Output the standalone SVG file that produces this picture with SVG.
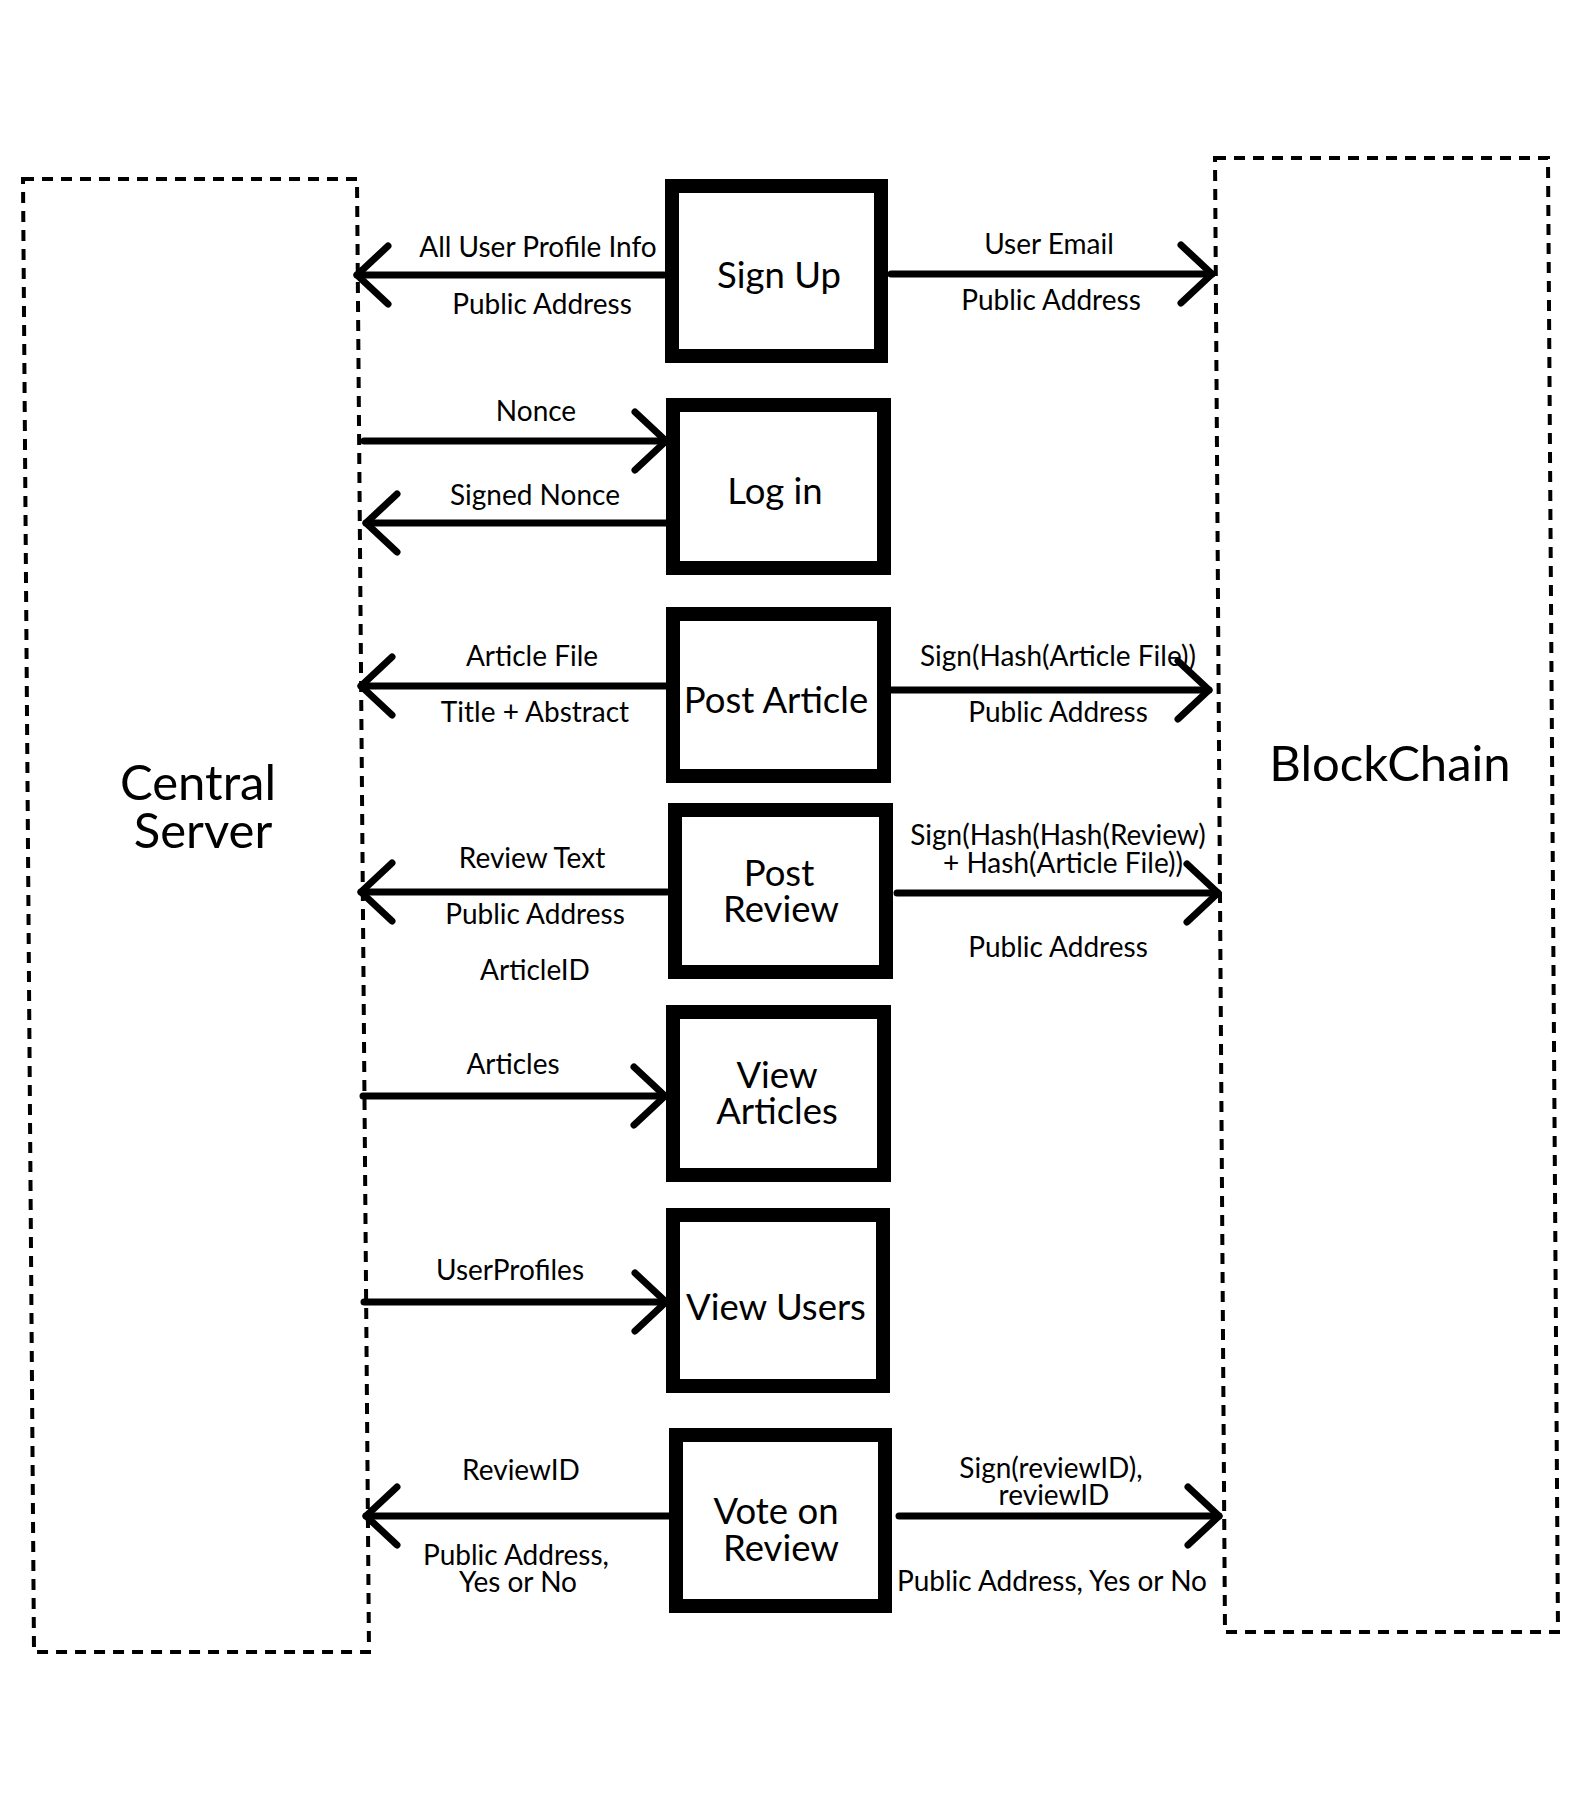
<svg xmlns="http://www.w3.org/2000/svg" width="1595" height="1795" viewBox="0 0 1595 1795">
<style>
.bg{fill:#fff}
.zone{fill:none;stroke:#000;stroke-width:4;stroke-dasharray:11 8}
.node{fill:#fff;stroke:#000;stroke-width:14}
.conn{fill:none;stroke:#000;stroke-width:7;stroke-linecap:round}
.lbl{font-family:Lato,"Open Sans",sans-serif;font-size:28px;fill:#000;text-anchor:middle}
.ntx{font-family:Lato,"Open Sans",sans-serif;font-size:36.5px;fill:#000;text-anchor:middle}
.ztx{font-family:Lato,"Open Sans",sans-serif;font-size:49px;fill:#000;text-anchor:middle}
</style>
<defs>
<marker id="ah" viewBox="-40 -40 50 80" refX="0" refY="0" markerWidth="50" markerHeight="80" markerUnits="userSpaceOnUse" orient="auto" overflow="visible">
<path d="M-31,-29 L0,0 L-31,29" fill="none" stroke="#000" stroke-width="7" stroke-linecap="round" stroke-linejoin="round"/>
</marker>
</defs>
<rect class="bg" x="0" y="0" width="1595" height="1795"/>

<g id="central-server">
<path class="zone" d="M23,179 L357,179 L369,1652 L34,1652 Z"/>
<text class="ztx" x="198" y="800">Central</text>
<text class="ztx" x="203" y="848">Server</text>
</g>
<g id="blockchain">
<path class="zone" d="M1215,158 L1548,158 L1558,1632 L1225,1632 Z"/>
<text class="ztx" x="1390" y="781">BlockChain</text>
</g>

<g id="connectors">
<path class="conn" d="M664,275 L357,275" marker-end="url(#ah)"/>
<path class="conn" d="M891,274 L1212,274" marker-end="url(#ah)"/>
<path class="conn" d="M364,441 L666,441" marker-end="url(#ah)"/>
<path class="conn" d="M666,523 L366,523" marker-end="url(#ah)"/>
<path class="conn" d="M666,686 L361,686" marker-end="url(#ah)"/>
<path class="conn" d="M891,690 L1209,690" marker-end="url(#ah)"/>
<path class="conn" d="M667,892 L361,892" marker-end="url(#ah)"/>
<path class="conn" d="M897,893 L1218,893" marker-end="url(#ah)"/>
<path class="conn" d="M363,1096 L665,1096" marker-end="url(#ah)"/>
<path class="conn" d="M364,1302 L666,1302" marker-end="url(#ah)"/>
<path class="conn" d="M670,1516 L366,1516" marker-end="url(#ah)"/>
<path class="conn" d="M899,1516 L1219,1516" marker-end="url(#ah)"/>
<text class="lbl" x="538" y="257">All User Profile Info</text>
<text class="lbl" x="542" y="314">Public Address</text>
<text class="lbl" x="1049" y="254">User Email</text>
<text class="lbl" x="1051" y="310">Public Address</text>
<text class="lbl" x="536" y="421">Nonce</text>
<text class="lbl" x="535" y="505">Signed Nonce</text>
<text class="lbl" x="532" y="666">Article File</text>
<text class="lbl" x="535" y="722">Title + Abstract</text>
<text class="lbl" x="1058" y="666">Sign(Hash(Article File))</text>
<text class="lbl" x="1058" y="722">Public Address</text>
<text class="lbl" x="532" y="868">Review Text</text>
<text class="lbl" x="535" y="924">Public Address</text>
<text class="lbl" x="535" y="980">ArticleID</text>
<text class="lbl" x="1058" y="845">Sign(Hash(Hash(Review)</text>
<text class="lbl" x="1063" y="873">+ Hash(Article File))</text>
<text class="lbl" x="1058" y="957">Public Address</text>
<text class="lbl" x="513" y="1074">Articles</text>
<text class="lbl" x="510" y="1280">UserProfiles</text>
<text class="lbl" x="521" y="1480">ReviewID</text>
<text class="lbl" x="516" y="1565">Public Address,</text>
<text class="lbl" x="518" y="1592">Yes or No</text>
<text class="lbl" x="1051" y="1478">Sign(reviewID),</text>
<text class="lbl" x="1054" y="1505">reviewID</text>
<text class="lbl" x="1052" y="1591">Public Address, Yes or No</text>
</g>

<g id="sign-up">
<rect class="node" x="672" y="186" width="209" height="170"/>
<text class="ntx" x="779" y="288">Sign Up</text>
</g>
<g id="log-in">
<rect class="node" x="673" y="405" width="211" height="163"/>
<text class="ntx" x="775" y="504">Log in</text>
</g>
<g id="post-article">
<rect class="node" x="673" y="614" width="211" height="162"/>
<text class="ntx" x="776" y="713">Post Article</text>
</g>
<g id="post-review">
<rect class="node" x="675" y="810" width="211" height="162"/>
<text class="ntx" x="779" y="886">Post</text>
<text class="ntx" x="781" y="922">Review</text>
</g>
<g id="view-articles">
<rect class="node" x="673" y="1012" width="211" height="163"/>
<text class="ntx" x="777" y="1088">View</text>
<text class="ntx" x="777" y="1124">Articles</text>
</g>
<g id="view-users">
<rect class="node" x="673" y="1215" width="210" height="171"/>
<text class="ntx" x="776" y="1320">View Users</text>
</g>
<g id="vote-on-review">
<rect class="node" x="676" y="1435" width="209" height="171"/>
<text class="ntx" x="776" y="1524">Vote on</text>
<text class="ntx" x="781" y="1561">Review</text>
</g>
</svg>
